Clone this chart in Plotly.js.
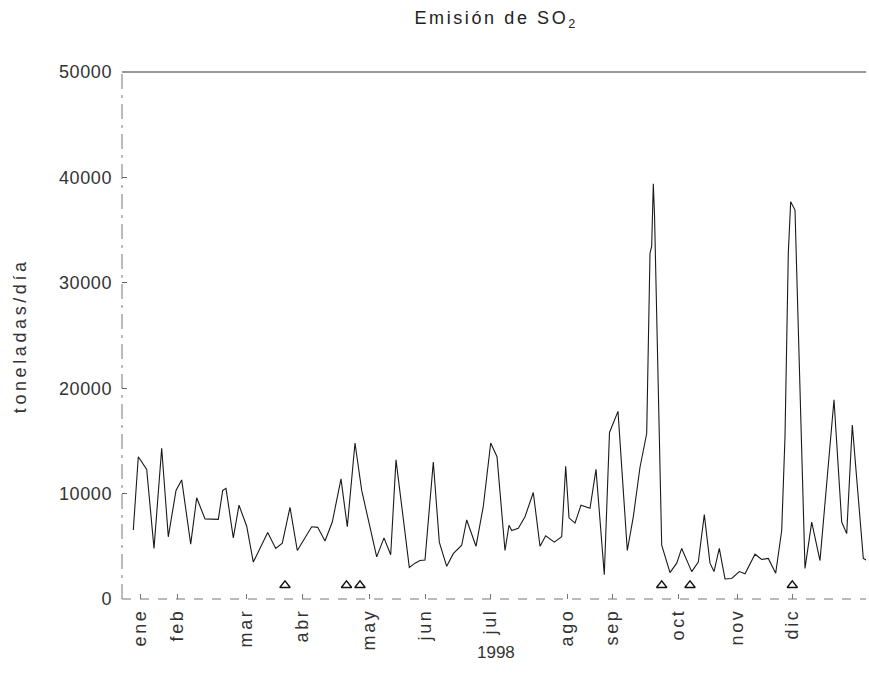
<!DOCTYPE html>
<html>
<head>
<meta charset="utf-8">
<script src="https://cdn.plot.ly/plotly-3.0.1.min.js"></script>
<style>
  html, body { margin: 0; padding: 0; background: #fff; }
  #chart { width: 869px; height: 679px; }
  /* wide, airy lettering of the original chart style */
  #chart .gtitle { letter-spacing: 2.6px; }
  #chart .xtick text { letter-spacing: 2.6px; }
  #chart .ytick text { letter-spacing: 0.6px; }
  #chart g.annotation[data-index="0"] text { letter-spacing: 3.6px; }
</style>
</head>
<body>
<div id="chart"></div>
<script>
// Daily SO2 emission, 1998 (position along the sampling axis, t/day)
const dia = [5.65, 8.15, 12.35, 16, 19.85, 23.15, 27, 29.85, 34.35, 37.35,
  41.5, 48.15, 50.35, 52, 55.65, 58.5, 62.35, 65.65, 72.85, 76.85,
  80.15, 84, 87.65, 91.5, 94.85, 97.85, 101.5, 105.15, 109.5, 112.65,
  116.5, 119.85, 127.35, 131, 134.35, 137, 143.65, 146.5, 149, 151.5,
  155.65, 158.65, 162.35, 165.65, 169.85, 172.35, 177, 180.65, 184.35, 187.5,
  191.5, 193.5, 194.85, 198.15, 201.5, 205.65, 209, 211.85, 216.15, 219.85,
  221.85, 223.5, 226.5, 229.5, 234, 237, 241.15, 243.75, 248, 252.65,
  255.65, 259, 262.35, 264, 264.85, 265.65, 266.25, 269.85, 274, 277.35,
  279.85, 284.85, 288.15, 291.15, 294, 296, 298.65, 301.5, 304.85, 308.65,
  311.5, 316.5, 319.85, 323.15, 326.85, 329.85, 331.5, 333.15, 334.35, 336.5,
  341.5, 344.85, 349, 356, 359.85, 362.35, 365.15, 370.65, 372];

const emision = [6550, 13500, 12300, 4800, 14300, 5900, 10300, 11300, 5200, 9600,
  7600, 7550, 10300, 10500, 5800, 8900, 6900, 3500, 6300, 4800,
  5300, 8700, 4600, 5800, 6850, 6800, 5500, 7300, 11400, 6850,
  14800, 10300, 4000, 5800, 4200, 13200, 3000, 3400, 3650, 3700,
  13000, 5400, 3100, 4300, 5100, 7500, 5000, 8800, 14800, 13500,
  4600, 7000, 6500, 6700, 7800, 10100, 5000, 6000, 5400, 5900,
  12600, 7700, 7200, 8900, 8600, 12300, 2300, 15800, 17800, 4600,
  7800, 12500, 15700, 32800, 33500, 39400, 36500, 5100, 2500, 3400,
  4800, 2600, 3500, 8000, 3400, 2600, 4800, 1900, 1950, 2600,
  2400, 4250, 3750, 3850, 2450, 6500, 15400, 32800, 37700, 36900,
  2900, 7300, 3650, 18900, 7300, 6200, 16500, 3850, 3700];

// Flagged days shown as open triangles near the base
const eventoDia = [81.5, 112.25, 119, 269.85, 284, 335.15];
const eventoValor = [1300, 1300, 1300, 1300, 1300, 1300];

// Month labels
const mesPos = [9, 27.5, 62, 90, 123.5, 151.5, 184, 222.5, 245, 278, 307.5, 335];
const mesEtiqueta = ['ene', 'feb', 'mar', 'abr', 'may', 'jun', 'jul', 'ago', 'sep', 'oct', 'nov', 'dic'];

const yTicks = [0, 10000, 20000, 30000, 40000, 50000];

const FONT = 'Liberation Sans, Arial, sans-serif';

const traces = [
  {
    x: dia, y: emision, type: 'scatter', mode: 'lines',
    line: { color: '#1a1a1a', width: 1.1 },
    hoverinfo: 'skip', showlegend: false
  },
  {
    x: eventoDia, y: eventoValor, type: 'scatter', mode: 'markers',
    marker: { symbol: 'triangle-up-open', size: 9, color: '#111', line: { width: 1.4, color: '#111' } },
    hoverinfo: 'skip', showlegend: false
  }
];

const layout = {
  width: 869, height: 679,
  margin: { l: 122, r: 3, t: 72, b: 80 },
  paper_bgcolor: '#fff', plot_bgcolor: '#fff',
  font: { family: FONT, size: 18, color: '#333' },
  title: {
    text: 'Emisión de SO<sub>2</sub>',
    font: { family: FONT, size: 18, color: '#222' },
    xref: 'container', x: 0.571, xanchor: 'center',
    yref: 'container', y: 1 - 18 / 679, yanchor: 'middle'
  },
  xaxis: {
    range: [0, 372], showgrid: false, zeroline: false, showline: false,
    tickmode: 'array', tickvals: mesPos, ticktext: mesEtiqueta,
    tickangle: -90, ticks: 'inside', ticklen: 5, tickcolor: '#777',
    ticklabelstandoff: 5,
    tickfont: { family: FONT, size: 18, color: '#333' }
  },
  yaxis: {
    range: [0, 50000], showgrid: false, zeroline: false, showline: false,
    tickmode: 'array', tickvals: yTicks, ticktext: yTicks.map(String),
    ticks: 'inside', ticklen: 5, tickcolor: '#666',
    ticklabelstandoff: 9,
    tickfont: { family: FONT, size: 18, color: '#333' }
  },
  shapes: [
    { type: 'line', xref: 'paper', yref: 'paper', x0: 0, x1: 1, y0: 1, y1: 1,
      line: { color: '#777', width: 1.4 } },
    { type: 'line', xref: 'paper', yref: 'paper', x0: 0, x1: 0, y0: 0, y1: 1,
      line: { color: '#777', width: 1, dash: 'longdashdot' } },
    { type: 'line', xref: 'paper', yref: 'paper', x0: 0, x1: 1, y0: 0, y1: 0,
      line: { color: '#777', width: 1, dash: 'dash' } }
  ],
  annotations: [
    { text: 'toneladas/día', xref: 'paper', yref: 'paper', x: -0.138, y: 0.5,
      xanchor: 'center', yanchor: 'middle', textangle: -90, showarrow: false,
      font: { family: FONT, size: 18, color: '#333' } },
    { text: '1998', xref: 'paper', yref: 'paper', x: 0.503, y: -0.08,
      xanchor: 'center', yanchor: 'top', showarrow: false,
      font: { family: FONT, size: 17, color: '#333' } }
  ]
};

Plotly.newPlot('chart', traces, layout, { staticPlot: true, displayModeBar: false });
</script>
</body>
</html>
